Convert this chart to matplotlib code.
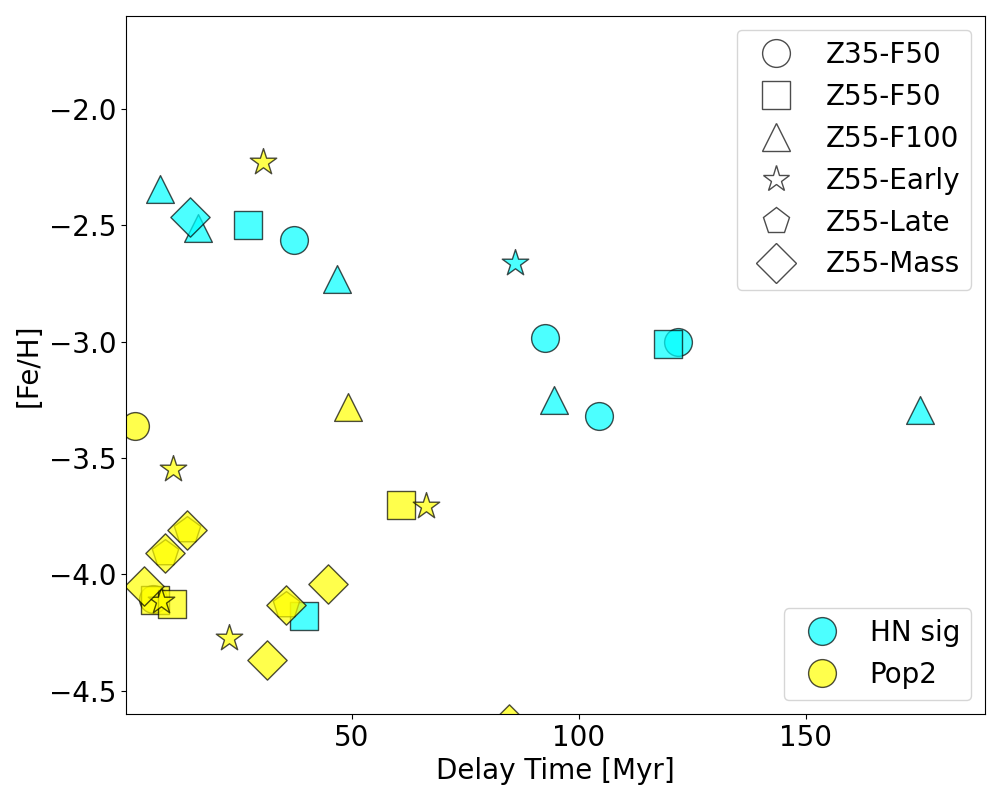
import matplotlib
matplotlib.use('Agg')
import matplotlib.pyplot as plt
from matplotlib.lines import Line2D

# %% data: delay time [Myr] and [Fe/H] per model
models = ['Z35-F50', 'Z55-F50', 'Z55-F100', 'Z55-Early', 'Z55-Late', 'Z55-Mass']
markers = ['o', 's', '^', '*', 'p', 'D']

hn_t = {
    'Z35-F50': [37.4, 92.5, 121.8, 104.4],
    'Z55-F50': [27.1, 119.6, 39.6],
    'Z55-F100': [7.7, 16.1, 46.7, 94.5, 175.1],
    'Z55-Early': [85.9],
    'Z55-Late': [],
    'Z55-Mass': [14.3],
}
hn_feh = {
    'Z35-F50': [-2.564, -2.985, -3.0, -3.32],
    'Z55-F50': [-2.50, -3.01, -4.177],
    'Z55-F100': [-2.344, -2.51, -2.73, -3.25, -3.295],
    'Z55-Early': [-2.66],
    'Z55-Late': [],
    'Z55-Mass': [-2.465],
}
pop2_t = {
    'Z35-F50': [2.2, 6.2],
    'Z55-F50': [60.8, 6.7, 10.5],
    'Z55-F100': [49.1],
    'Z55-Early': [30.4, 10.6, 66.3, 8.1, 23.0],
    'Z55-Late': [13.7, 9.0, 35.5],
    'Z55-Mass': [13.7, 9.0, 4.2, 35.5, 31.3, 44.8, 84.6],
}
pop2_feh = {
    'Z35-F50': [-3.364, -4.105],
    'Z55-F50': [-3.70, -4.11, -4.126],
    'Z55-F100': [-3.282],
    'Z55-Early': [-2.228, -3.545, -3.708, -4.114, -4.275],
    'Z55-Late': [-3.81, -3.91, -4.13],
    'Z55-Mass': [-3.81, -3.91, -4.048, -4.13, -4.37, -4.04, -4.645],
}

# %% plot
plt.rcParams['font.size'] = 20
fig, ax = plt.subplots(figsize=(10, 8), dpi=100)
fig.subplots_adjust(left=0.126, right=0.985, top=0.98, bottom=0.1075)

for m, mk in zip(models, markers):
    if hn_t[m]:
        ax.scatter(hn_t[m], hn_feh[m], s=400, marker=mk, c='cyan', edgecolors='k', alpha=0.7)
    ax.scatter(pop2_t[m], pop2_feh[m], s=400, marker=mk, c='yellow', edgecolors='k', alpha=0.7)

ax.set_xlim(0.3, 189.5)
ax.set_ylim(-4.6, -1.6)
ax.set_xticks([50, 100, 150])
ax.set_yticks([-2.0, -2.5, -3.0, -3.5, -4.0, -4.5])
ax.set_xlabel('Delay Time [Myr]')
ax.set_ylabel('[Fe/H]')

# marker legend
shape_handles = [Line2D([], [], ls='', marker=mk, markersize=20, markerfacecolor='w',
                        markeredgecolor='k', alpha=0.7, label=m)
                 for m, mk in zip(models, markers)]
leg1 = ax.legend(handles=shape_handles, loc='upper right')
ax.add_artist(leg1)

# colour legend
col_handles = [Line2D([], [], ls='', marker='o', markersize=20, markerfacecolor=c,
                      markeredgecolor='k', alpha=0.7, label=l)
               for c, l in zip(['cyan', 'yellow'], ['HN sig', 'Pop2'])]
ax.legend(handles=col_handles, loc='lower right', handletextpad=0.7)

fig.savefig('out.png')
